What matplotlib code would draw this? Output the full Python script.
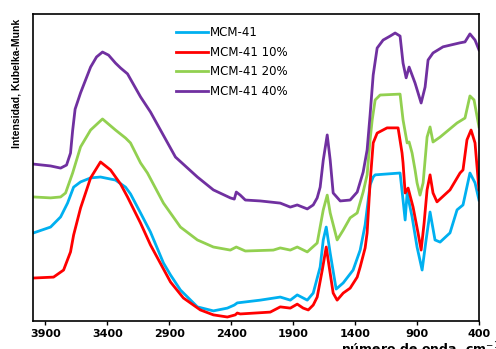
import matplotlib
matplotlib.use('Agg')
import matplotlib.pyplot as plt

# wavenumber (cm-1) / Kubelka-Munk intensity (arbitrary units)
wn_blue = [3995, 3858, 3777, 3721, 3672, 3616, 3535, 3455, 3334, 3253, 3213, 3132, 3052, 2947, 2890, 2810,
           2673, 2544, 2431, 2375, 2351, 2165, 2004, 1923, 1867, 1786, 1738, 1682, 1657, 1633, 1601, 1553,
           1496, 1416, 1359, 1319, 1279, 1254, 1238, 1037, 1013, 996, 980, 940, 900, 859, 827, 795, 755,
           714, 634, 577, 529, 473, 432, 400]
km_blue = [28.7, 30.6, 33.9, 38.4, 43.6, 45.3, 46.6, 46.9, 45.9, 43.6, 41.4, 35.2, 29.0, 18.9, 15.0, 10.1,
           4.6, 3.3, 4.2, 5.2, 5.9, 6.8, 7.8, 6.8, 8.5, 6.8, 9.1, 17.6, 26.4, 30.6, 22.1, 10.4,
           12.4, 16.6, 23.1, 31.3, 44.3, 46.9, 47.6, 48.2, 39.4, 32.9, 41.7, 33.9, 24.1, 16.6, 26.4, 35.5, 26.4,
           25.7, 28.7, 36.2, 37.8, 48.2, 45.0, 39.4]

wn_red = [3995, 3834, 3753, 3697, 3672, 3616, 3535, 3455, 3374, 3293, 3237, 3132, 3052, 2890, 2786, 2649,
          2544, 2431, 2367, 2351, 2327, 2085, 2004, 1923, 1867, 1819, 1778, 1738, 1706, 1665, 1633, 1609,
          1577, 1545, 1496, 1440, 1383, 1359, 1319, 1303, 1279, 1254, 1222, 1142, 1053, 1021, 1013, 996,
          972, 932, 892, 867, 843, 819, 795, 771, 739, 634, 553, 529, 497, 464, 432, 400]
km_red = [14.0, 14.3, 16.6, 22.5, 28.0, 36.8, 46.6, 51.8, 49.2, 44.6, 40.4, 31.9, 24.8, 12.7, 7.5, 3.6,
          2.0, 1.3, 2.0, 2.6, 2.3, 2.9, 4.6, 4.2, 5.5, 4.2, 3.6, 5.2, 7.8, 16.6, 24.1, 17.6,
          9.1, 6.8, 9.1, 10.7, 14.3, 17.6, 23.8, 28.7, 45.0, 58.0, 61.2, 62.9, 62.9, 54.7, 51.5, 41.7,
          43.3, 37.1, 28.7, 23.1, 31.9, 42.7, 47.6, 41.7, 38.8, 42.7, 48.2, 49.2, 59.0, 62.2, 58.0, 42.7]

wn_green = [3995, 3858, 3777, 3737, 3680, 3616, 3535, 3439, 3334, 3253, 3213, 3132, 3076, 2947, 2810, 2673,
            2544, 2407, 2359, 2286, 2060, 2004, 1923, 1867, 1786, 1706, 1657, 1625, 1601, 1545, 1496, 1440,
            1383, 1335, 1303, 1279, 1262, 1238, 1198, 1037, 1013, 980, 964, 940, 916, 900, 876, 851, 819,
            795, 771, 714, 577, 513, 473, 440, 400]
km_green = [40.4, 40.1, 40.4, 41.7, 48.2, 56.7, 62.2, 65.8, 62.2, 59.6, 58.0, 51.5, 48.2, 38.4, 30.6, 26.4,
            24.1, 23.1, 24.1, 22.8, 23.1, 23.8, 23.1, 24.1, 22.5, 25.4, 36.2, 41.0, 35.2, 26.4, 29.6, 33.6,
            35.2, 42.0, 47.6, 59.0, 65.5, 72.0, 73.6, 73.9, 65.5, 58.0, 58.3, 54.7, 49.2, 45.0, 41.0, 45.0, 59.9,
            63.2, 58.3, 59.9, 64.5, 66.1, 73.3, 72.0, 63.2]

wn_purple = [3995, 3858, 3777, 3729, 3697, 3680, 3660, 3616, 3535, 3487, 3439, 3390, 3334, 3293, 3237, 3132,
             3052, 2971, 2850, 2673, 2544, 2407, 2375, 2359, 2327, 2286, 2165, 2004, 1923, 1867, 1786, 1738,
             1706, 1682, 1657, 1625, 1601, 1577, 1520, 1440, 1383, 1335, 1303, 1279, 1254, 1222, 1174, 1117,
             1077, 1037, 1013, 988, 964, 916, 867, 835, 811, 771, 690, 553, 513, 473, 432, 400]
km_purple = [51.1, 50.5, 49.8, 50.8, 54.7, 62.0, 69.0, 74.3, 82.7, 86.0, 87.6, 86.6, 84.0, 82.4, 80.5, 73.0,
             68.1, 62.2, 53.4, 46.9, 42.7, 40.1, 39.7, 42.0, 41.0, 39.4, 39.1, 38.4, 37.1, 37.8, 36.5, 37.8,
             40.1, 43.6, 52.4, 60.6, 52.4, 41.7, 39.1, 39.4, 42.0, 48.5, 55.7, 67.1, 80.1, 88.9, 91.5, 92.8,
             93.8, 92.8, 84.0, 79.2, 82.7, 77.5, 71.0, 76.2, 85.0, 87.3, 89.3, 90.6, 90.9, 93.5, 91.5, 88.3]

xticks = [3900, 3400, 2900, 2400, 1900, 1400, 900, 400]

fig = plt.figure(figsize=(4.96, 3.49), dpi=100)
ax = fig.add_axes([0.0665, 0.0802, 0.8992, 0.8798])

lw = 2.0
ax.plot(wn_blue, km_blue, color='#00B0F0', lw=lw, label='MCM-41')
ax.plot(wn_red, km_red, color='#FF0000', lw=lw, label='MCM-41 10%')
ax.plot(wn_green, km_green, color='#92D050', lw=lw, label='MCM-41 20%')
ax.plot(wn_purple, km_purple, color='#7030A0', lw=lw, label='MCM-41 40%')

ax.set_xlim(4000, 400)
ax.set_ylim(0, 100)
ax.set_yticks([])
ax.set_xticks(xticks)
ax.set_xticklabels([str(t) for t in xticks], fontsize=8, fontweight='bold')
ax.tick_params(axis='x', direction='out', length=3, width=1, pad=3)
for s in ax.spines.values():
    s.set_linewidth(1.2)
    s.set_color('black')

ax.set_ylabel('Intensidad, Kubelka-Munk', fontsize=7.5, fontweight='bold',
              family='Liberation Sans')
ax.yaxis.set_label_coords(-0.025, 0.775)
fig.text(0.847, 0.026, 'número de onda, cm$^{-1}$', ha='center', va='top',
         fontsize=9, fontweight='bold')

ax.legend(loc='upper left', bbox_to_anchor=(0.31, 0.975), frameon=False, fontsize=8.5,
          handlelength=2.7, handletextpad=0.2, labelspacing=0.55, borderaxespad=0)

fig.savefig('out.png', dpi=100)
